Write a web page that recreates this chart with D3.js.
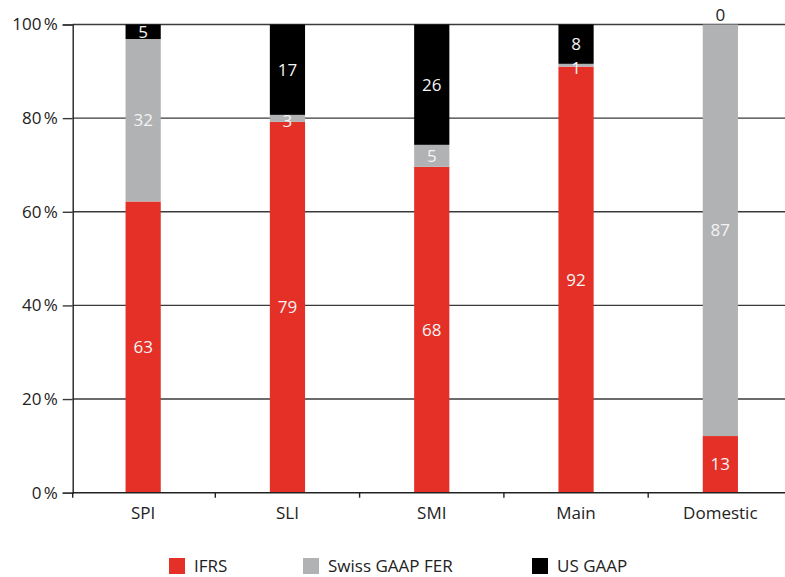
<!DOCTYPE html>
<html>
<head>
<meta charset="utf-8">
<script src="https://cdn.jsdelivr.net/npm/d3@7"></script>
<style>
  html, body { margin: 0; padding: 0; background: #fff; }
  svg { display: block; }
  text { font-family: "Open Sans", "Noto Sans", sans-serif; }
</style>
</head>
<body>
<svg id="chart" width="785" height="577"></svg>
<script>
// ---- data ----
const categories = ["SPI", "SLI", "SMI", "Main", "Domestic"];
const seriesNames = ["IFRS", "Swiss GAAP FER", "US GAAP"];
// segment heights as drawn (% of listed companies)
const ifrs    = [62.2, 79.2, 69.6, 91.0, 12.1];
const swiss   = [34.7,  1.5,  4.7,  0.6, 87.9];
const usgaap  = [ 3.1, 19.3, 25.7,  8.4,  0.0];
// value labels as printed on the chart
const ifrsLabels   = ["63", "79", "68", "92", "13"];
const swissLabels  = ["32", "3", "5", "1", "87"];
const usgaapLabels = ["5", "17", "26", "8", "0"];
const yTicks = [0, 20, 40, 60, 80, 100];
const colors = ["#e53027", "#b1b2b4", "#000000"];

(function () {
// ---- layout ----
const svg = d3.select("#chart");
const axisX = 72.7, pTop = 24.5, pBottom = 492.7;

const x = d3.scaleBand().domain(categories).range([71, 792.5]).paddingInner(0.756).paddingOuter(0.378);
const y = d3.scaleLinear().domain([0, 100]).range([pBottom, pTop]);

const rows = categories.map((c, i) => ({ cat: c, IFRS: ifrs[i], "Swiss GAAP FER": swiss[i], "US GAAP": usgaap[i] }));
const labels = [ifrsLabels, swissLabels, usgaapLabels];
const stacked = d3.stack().keys(seriesNames)(rows);

// gridlines
svg.append("g").selectAll("line").data(yTicks.filter(d => d > 0)).join("line")
  .attr("x1", axisX).attr("x2", 785)
  .attr("y1", d => y(d)).attr("y2", d => y(d))
  .attr("stroke", "#3a3a3a").attr("stroke-width", 1.4);

// bars
stacked.forEach((s, si) => {
  svg.append("g").attr("fill", colors[si]).selectAll("rect").data(s).join("rect")
    .attr("x", d => x(d.data.cat))
    .attr("width", x.bandwidth())
    .attr("y", d => y(d[1]))
    .attr("height", d => y(d[0]) - y(d[1]));
});

// value labels
stacked.forEach((s, si) => {
  svg.append("g").selectAll("text").data(s).join("text")
    .attr("x", d => x(d.data.cat) + x.bandwidth() / 2)
    .attr("y", d => {
      const h = d[1] - d[0];
      if (h <= 0) return y(d[1]) - 9;
      const mid = (y(d[0]) + y(d[1])) / 2;
      return h < 2 ? mid + 2.5 : mid;
    })
    .attr("dy", "0.35em")
    .attr("text-anchor", "middle")
    .attr("font-size", 17)
    .attr("fill", d => (d[1] - d[0]) > 0 ? "#f4f4f4" : "#222")
    .text((d, i) => labels[si][i]);
});

// y axis
const yAxis = svg.append("g").attr("transform", `translate(${axisX},0)`)
  .call(d3.axisLeft(y).tickValues(yTicks).tickSize(10).tickPadding(5).tickFormat(d => d + "\u202F%"));
yAxis.select(".domain").attr("stroke", "#222").attr("stroke-width", 1.4);
yAxis.selectAll(".tick line").attr("stroke", "#3a3a3a").attr("stroke-width", 1.4);
yAxis.selectAll(".tick text").attr("font-size", 17).attr("fill", "#222").attr("font-family", "Open Sans");

// x axis
const xTickPos = [axisX].concat(d3.range(1, categories.length).map(i => x.range()[0] + i * x.step()));
const xAxisG = svg.append("g");
xAxisG.append("line").attr("x1", axisX).attr("x2", 785).attr("y1", pBottom).attr("y2", pBottom)
  .attr("stroke", "#222").attr("stroke-width", 1.4);
xAxisG.selectAll(".xt").data(xTickPos).join("line").attr("class", "xt")
  .attr("x1", d => d).attr("x2", d => d).attr("y1", pBottom).attr("y2", pBottom + 5)
  .attr("stroke", "#222").attr("stroke-width", 1.4);
xAxisG.selectAll("text").data(categories).join("text")
  .attr("x", d => x(d) + x.bandwidth() / 2)
  .attr("y", 519)
  .attr("text-anchor", "middle")
  .attr("font-size", 17)
  .attr("fill", "#222")
  .text(d => d);

// legend
const legendX = [169, 303, 532];
const lg = svg.append("g");
seriesNames.forEach((n, i) => {
  lg.append("rect").attr("x", legendX[i]).attr("y", 558).attr("width", 16).attr("height", 16).attr("fill", colors[i]);
  lg.append("text").attr("x", legendX[i] + 25).attr("y", 572).attr("font-size", 17).attr("fill", "#222").text(n);
});
})();
</script>
</body>
</html>
